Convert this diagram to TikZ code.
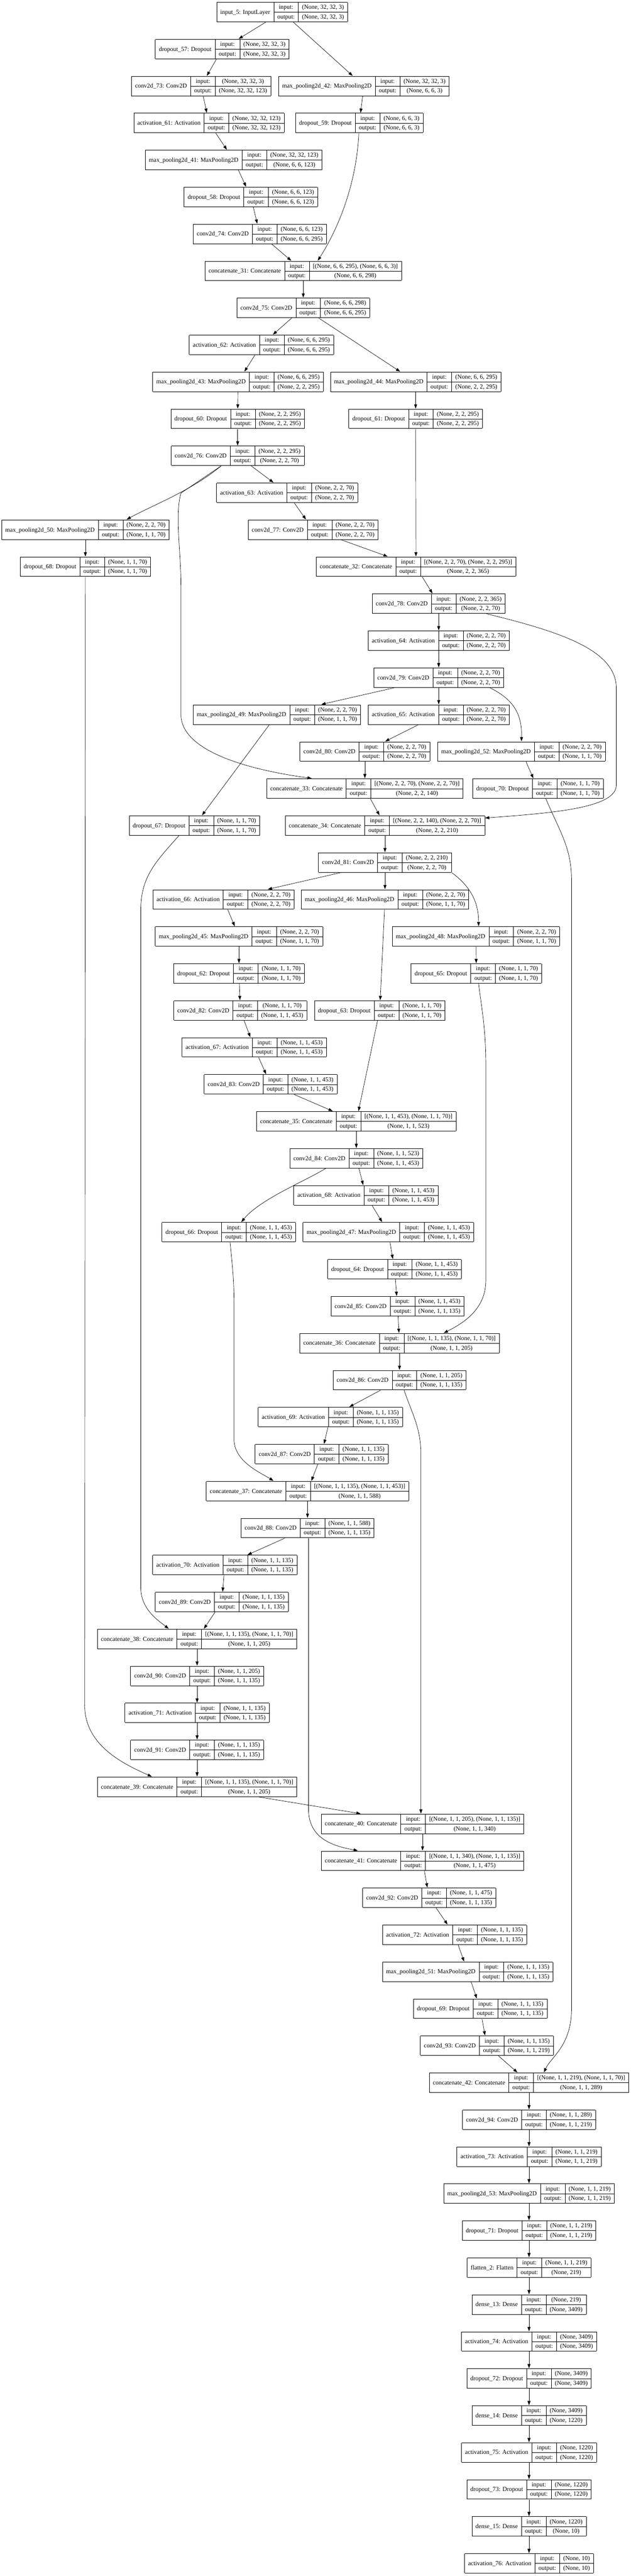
\documentclass[tikz,border=0pt]{standalone}
\usepackage{fontspec}
\setmainfont{Liberation Serif}
\usetikzlibrary{arrows.meta}
\setlength{\tabcolsep}{3.13pt}
\setlength{\arrayrulewidth}{0.3pt}
\newcommand{\layerrec}[3]{\begin{tabular}{|c|c|c|}\hline
  \raisebox{-4.2pt}[0pt][0pt]{#1} & input: & #2\\ \cline{2-3}
  & output: & #3\\ \hline\end{tabular}}
\tikzset{
layer/.style={inner sep=0pt, font=\fontsize{5.3}{8.25}\selectfont}, % one record per keras layer
link/.style={-{Triangle[length=1.3mm,width=0.9mm]}, line width=0.3pt}, % data flow between layers
}

\begin{document}
\begin{tikzpicture}[x=0.01cm, y=-1.12cm]% y counts the ranks of the graph
  \useasboundingbox (0,-0.3259) rectangle (1913,69.3438);
  \node[layer] (inp5) at (856,0) {\layerrec{input\_5: InputLayer}{(None, 32, 32, 3)}{(None, 32, 32, 3)}};
  \node[layer] (drop57) at (674,1) {\layerrec{dropout\_57: Dropout}{(None, 32, 32, 3)}{(None, 32, 32, 3)}};
  \node[layer] (conv73) at (610,2) {\layerrec{conv2d\_73: Conv2D}{(None, 32, 32, 3)}{(None, 32, 32, 123)}};
  \node[layer] (mp42) at (1104,2) {\layerrec{max\_pooling2d\_42: MaxPooling2D}{(None, 32, 32, 3)}{(None, 6, 6, 3)}};
  \node[layer] (act61) at (634,3) {\layerrec{activation\_61: Activation}{(None, 32, 32, 123)}{(None, 32, 32, 123)}};
  \node[layer] (drop59) at (1090,3) {\layerrec{dropout\_59: Dropout}{(None, 6, 6, 3)}{(None, 6, 6, 3)}};
  \node[layer] (mp41) at (709,4) {\layerrec{max\_pooling2d\_41: MaxPooling2D}{(None, 32, 32, 123)}{(None, 6, 6, 123)}};
  \node[layer] (drop58) at (761,5) {\layerrec{dropout\_58: Dropout}{(None, 6, 6, 123)}{(None, 6, 6, 123)}};
  \node[layer] (conv74) at (788,6) {\layerrec{conv2d\_74: Conv2D}{(None, 6, 6, 123)}{(None, 6, 6, 295)}};
  \node[layer] (cat31) at (920,7) {\layerrec{concatenate\_31: Concatenate}{[(None, 6, 6, 295), (None, 6, 6, 3)]}{(None, 6, 6, 298)}};
  \node[layer] (conv75) at (920,8) {\layerrec{conv2d\_75: Conv2D}{(None, 6, 6, 298)}{(None, 6, 6, 295)}};
  \node[layer] (act62) at (793,9) {\layerrec{activation\_62: Activation}{(None, 6, 6, 295)}{(None, 6, 6, 295)}};
  \node[layer] (mp43) at (722,10) {\layerrec{max\_pooling2d\_43: MaxPooling2D}{(None, 6, 6, 295)}{(None, 2, 2, 295)}};
  \node[layer] (mp44) at (1261,10) {\layerrec{max\_pooling2d\_44: MaxPooling2D}{(None, 6, 6, 295)}{(None, 2, 2, 295)}};
  \node[layer] (drop60) at (721,11) {\layerrec{dropout\_60: Dropout}{(None, 2, 2, 295)}{(None, 2, 2, 295)}};
  \node[layer] (drop61) at (1261,11) {\layerrec{dropout\_61: Dropout}{(None, 2, 2, 295)}{(None, 2, 2, 295)}};
  \node[layer] (conv76) at (721,12) {\layerrec{conv2d\_76: Conv2D}{(None, 2, 2, 295)}{(None, 2, 2, 70)}};
  \node[layer] (act63) at (871,13) {\layerrec{activation\_63: Activation}{(None, 2, 2, 70)}{(None, 2, 2, 70)}};
  \node[layer] (mp50) at (259,14) {\layerrec{max\_pooling2d\_50: MaxPooling2D}{(None, 2, 2, 70)}{(None, 1, 1, 70)}};
  \node[layer] (conv77) at (950,14) {\layerrec{conv2d\_77: Conv2D}{(None, 2, 2, 70)}{(None, 2, 2, 70)}};
  \node[layer] (drop68) at (259,15) {\layerrec{dropout\_68: Dropout}{(None, 1, 1, 70)}{(None, 1, 1, 70)}};
  \node[layer] (cat32) at (1262,15) {\layerrec{concatenate\_32: Concatenate}{[(None, 2, 2, 70), (None, 2, 2, 295)]}{(None, 2, 2, 365)}};
  \node[layer] (conv78) at (1331,16) {\layerrec{conv2d\_78: Conv2D}{(None, 2, 2, 365)}{(None, 2, 2, 70)}};
  \node[layer] (act64) at (1331,17) {\layerrec{activation\_64: Activation}{(None, 2, 2, 70)}{(None, 2, 2, 70)}};
  \node[layer] (conv79) at (1331,18) {\layerrec{conv2d\_79: Conv2D}{(None, 2, 2, 70)}{(None, 2, 2, 70)}};
  \node[layer] (mp49) at (840,19) {\layerrec{max\_pooling2d\_49: MaxPooling2D}{(None, 2, 2, 70)}{(None, 1, 1, 70)}};
  \node[layer] (act65) at (1331,19) {\layerrec{activation\_65: Activation}{(None, 2, 2, 70)}{(None, 2, 2, 70)}};
  \node[layer] (conv80) at (1107,20) {\layerrec{conv2d\_80: Conv2D}{(None, 2, 2, 70)}{(None, 2, 2, 70)}};
  \node[layer] (mp52) at (1582,20) {\layerrec{max\_pooling2d\_52: MaxPooling2D}{(None, 2, 2, 70)}{(None, 1, 1, 70)}};
  \node[layer] (cat33) at (1107,21) {\layerrec{concatenate\_33: Concatenate}{[(None, 2, 2, 70), (None, 2, 2, 70)]}{(None, 2, 2, 140)}};
  \node[layer] (drop70) at (1632,21) {\layerrec{dropout\_70: Dropout}{(None, 1, 1, 70)}{(None, 1, 1, 70)}};
  \node[layer] (drop67) at (590,22) {\layerrec{dropout\_67: Dropout}{(None, 1, 1, 70)}{(None, 1, 1, 70)}};
  \node[layer] (cat34) at (1168,22) {\layerrec{concatenate\_34: Concatenate}{[(None, 2, 2, 140), (None, 2, 2, 70)]}{(None, 2, 2, 210)}};
  \node[layer] (conv81) at (1168,23) {\layerrec{conv2d\_81: Conv2D}{(None, 2, 2, 210)}{(None, 2, 2, 70)}};
  \node[layer] (act66) at (678,24) {\layerrec{activation\_66: Activation}{(None, 2, 2, 70)}{(None, 2, 2, 70)}};
  \node[layer] (mp46) at (1168,24) {\layerrec{max\_pooling2d\_46: MaxPooling2D}{(None, 2, 2, 70)}{(None, 1, 1, 70)}};
  \node[layer] (mp45) at (725,25) {\layerrec{max\_pooling2d\_45: MaxPooling2D}{(None, 2, 2, 70)}{(None, 1, 1, 70)}};
  \node[layer] (mp48) at (1444,25) {\layerrec{max\_pooling2d\_48: MaxPooling2D}{(None, 2, 2, 70)}{(None, 1, 1, 70)}};
  \node[layer] (drop62) at (725,26) {\layerrec{dropout\_62: Dropout}{(None, 1, 1, 70)}{(None, 1, 1, 70)}};
  \node[layer] (drop65) at (1445,26) {\layerrec{dropout\_65: Dropout}{(None, 1, 1, 70)}{(None, 1, 1, 70)}};
  \node[layer] (conv82) at (729,27) {\layerrec{conv2d\_82: Conv2D}{(None, 1, 1, 70)}{(None, 1, 1, 453)}};
  \node[layer] (drop63) at (1152,27) {\layerrec{dropout\_63: Dropout}{(None, 1, 1, 70)}{(None, 1, 1, 70)}};
  \node[layer] (act67) at (771,28) {\layerrec{activation\_67: Activation}{(None, 1, 1, 453)}{(None, 1, 1, 453)}};
  \node[layer] (conv83) at (821,29) {\layerrec{conv2d\_83: Conv2D}{(None, 1, 1, 453)}{(None, 1, 1, 453)}};
  \node[layer] (cat35) at (1081,30) {\layerrec{concatenate\_35: Concatenate}{[(None, 1, 1, 453), (None, 1, 1, 70)]}{(None, 1, 1, 523)}};
  \node[layer] (conv84) at (1081,31) {\layerrec{conv2d\_84: Conv2D}{(None, 1, 1, 523)}{(None, 1, 1, 453)}};
  \node[layer] (act68) at (1110,32) {\layerrec{activation\_68: Activation}{(None, 1, 1, 453)}{(None, 1, 1, 453)}};
  \node[layer] (drop66) at (694,33) {\layerrec{dropout\_66: Dropout}{(None, 1, 1, 453)}{(None, 1, 1, 453)}};
  \node[layer] (mp47) at (1178,33) {\layerrec{max\_pooling2d\_47: MaxPooling2D}{(None, 1, 1, 453)}{(None, 1, 1, 453)}};
  \node[layer] (drop64) at (1197,34) {\layerrec{dropout\_64: Dropout}{(None, 1, 1, 453)}{(None, 1, 1, 453)}};
  \node[layer] (conv85) at (1206,35) {\layerrec{conv2d\_85: Conv2D}{(None, 1, 1, 453)}{(None, 1, 1, 135)}};
  \node[layer] (cat36) at (1212,36) {\layerrec{concatenate\_36: Concatenate}{[(None, 1, 1, 135), (None, 1, 1, 70)]}{(None, 1, 1, 205)}};
  \node[layer] (conv86) at (1212,37) {\layerrec{conv2d\_86: Conv2D}{(None, 1, 1, 205)}{(None, 1, 1, 135)}};
  \node[layer] (act69) at (1002,38) {\layerrec{activation\_69: Activation}{(None, 1, 1, 135)}{(None, 1, 1, 135)}};
  \node[layer] (conv87) at (976,39) {\layerrec{conv2d\_87: Conv2D}{(None, 1, 1, 135)}{(None, 1, 1, 135)}};
  \node[layer] (cat37) at (933,40) {\layerrec{concatenate\_37: Concatenate}{[(None, 1, 1, 135), (None, 1, 1, 453)]}{(None, 1, 1, 588)}};
  \node[layer] (conv88) at (933,41) {\layerrec{conv2d\_88: Conv2D}{(None, 1, 1, 588)}{(None, 1, 1, 135)}};
  \node[layer] (act70) at (682,42) {\layerrec{activation\_70: Activation}{(None, 1, 1, 135)}{(None, 1, 1, 135)}};
  \node[layer] (conv89) at (673,43) {\layerrec{conv2d\_89: Conv2D}{(None, 1, 1, 135)}{(None, 1, 1, 135)}};
  \node[layer] (cat38) at (598,44) {\layerrec{concatenate\_38: Concatenate}{[(None, 1, 1, 135), (None, 1, 1, 70)]}{(None, 1, 1, 205)}};
  \node[layer] (conv90) at (598,45) {\layerrec{conv2d\_90: Conv2D}{(None, 1, 1, 205)}{(None, 1, 1, 135)}};
  \node[layer] (act71) at (598,46) {\layerrec{activation\_71: Activation}{(None, 1, 1, 135)}{(None, 1, 1, 135)}};
  \node[layer] (conv91) at (598,47) {\layerrec{conv2d\_91: Conv2D}{(None, 1, 1, 135)}{(None, 1, 1, 135)}};
  \node[layer] (cat39) at (598,48) {\layerrec{concatenate\_39: Concatenate}{[(None, 1, 1, 135), (None, 1, 1, 70)]}{(None, 1, 1, 205)}};
  \node[layer] (cat40) at (1282,49) {\layerrec{concatenate\_40: Concatenate}{[(None, 1, 1, 205), (None, 1, 1, 135)]}{(None, 1, 1, 340)}};
  \node[layer] (cat41) at (1282,50) {\layerrec{concatenate\_41: Concatenate}{[(None, 1, 1, 340), (None, 1, 1, 135)]}{(None, 1, 1, 475)}};
  \node[layer] (conv92) at (1302,51) {\layerrec{conv2d\_92: Conv2D}{(None, 1, 1, 475)}{(None, 1, 1, 135)}};
  \node[layer] (act72) at (1379,52) {\layerrec{activation\_72: Activation}{(None, 1, 1, 135)}{(None, 1, 1, 135)}};
  \node[layer] (mp51) at (1419,53) {\layerrec{max\_pooling2d\_51: MaxPooling2D}{(None, 1, 1, 135)}{(None, 1, 1, 135)}};
  \node[layer] (drop69) at (1457,54) {\layerrec{dropout\_69: Dropout}{(None, 1, 1, 135)}{(None, 1, 1, 135)}};
  \node[layer] (conv93) at (1477,55) {\layerrec{conv2d\_93: Conv2D}{(None, 1, 1, 135)}{(None, 1, 1, 219)}};
  \node[layer] (cat42) at (1605,56) {\layerrec{concatenate\_42: Concatenate}{[(None, 1, 1, 219), (None, 1, 1, 70)]}{(None, 1, 1, 289)}};
  \node[layer] (conv94) at (1605,57) {\layerrec{conv2d\_94: Conv2D}{(None, 1, 1, 289)}{(None, 1, 1, 219)}};
  \node[layer] (act73) at (1605,58) {\layerrec{activation\_73: Activation}{(None, 1, 1, 219)}{(None, 1, 1, 219)}};
  \node[layer] (mp53) at (1605,59) {\layerrec{max\_pooling2d\_53: MaxPooling2D}{(None, 1, 1, 219)}{(None, 1, 1, 219)}};
  \node[layer] (drop71) at (1605,60) {\layerrec{dropout\_71: Dropout}{(None, 1, 1, 219)}{(None, 1, 1, 219)}};
  \node[layer] (flat2) at (1605,61) {\layerrec{flatten\_2: Flatten}{(None, 1, 1, 219)}{(None, 219)}};
  \node[layer] (dense13) at (1605,62) {\layerrec{dense\_13: Dense}{(None, 219)}{(None, 3409)}};
  \node[layer] (act74) at (1605,63) {\layerrec{activation\_74: Activation}{(None, 3409)}{(None, 3409)}};
  \node[layer] (drop72) at (1605,64) {\layerrec{dropout\_72: Dropout}{(None, 3409)}{(None, 3409)}};
  \node[layer] (dense14) at (1605,65) {\layerrec{dense\_14: Dense}{(None, 3409)}{(None, 1220)}};
  \node[layer] (act75) at (1605,66) {\layerrec{activation\_75: Activation}{(None, 1220)}{(None, 1220)}};
  \node[layer] (drop73) at (1605,67) {\layerrec{dropout\_73: Dropout}{(None, 1220)}{(None, 1220)}};
  \node[layer] (dense15) at (1605,68) {\layerrec{dense\_15: Dense}{(None, 1220)}{(None, 10)}};
  \node[layer] (act76) at (1605,69) {\layerrec{activation\_76: Activation}{(None, 10)}{(None, 10)}};

  \path[link]
  (inp5) edge (drop57)
  (inp5) edge (mp42)
  (drop57) edge (conv73)
  (conv73) edge (act61)
  (mp42) edge (drop59)
  (act61) edge (mp41)
  (mp41) edge (drop58)
  (drop58) edge (conv74)
  (conv74) edge (cat31)
  (cat31) edge (conv75)
  (conv75) edge (act62)
  (conv75) edge (mp44)
  (act62) edge (mp43)
  (mp43) edge (drop60)
  (mp44) edge (drop61)
  (drop60) edge (conv76)
  (conv76) edge (act63)
  (act63) edge (conv77)
  (conv77) edge (cat32)
  (drop61) edge (cat32)
  (mp50) edge (drop68)
  (cat32) edge (conv78)
  (conv78) edge (act64)
  (act64) edge (conv79)
  (conv79) edge (mp49)
  (conv79) edge (act65)
  (act65) edge (conv80)
  (conv80) edge (cat33)
  (mp52) edge (drop70)
  (mp49) edge (drop67)
  (cat33) edge (cat34)
  (cat34) edge (conv81)
  (conv81) edge (act66)
  (conv81) edge (mp46)
  (act66) edge (mp45)
  (mp45) edge (drop62)
  (drop62) edge (conv82)
  (conv82) edge (act67)
  (act67) edge (conv83)
  (mp46) edge (drop63)
  (mp48) edge (drop65)
  (conv83) edge (cat35)
  (drop63) edge (cat35)
  (cat35) edge (conv84)
  (conv84) edge (act68)
  (act68) edge (mp47)
  (mp47) edge (drop64)
  (drop64) edge (conv85)
  (conv85) edge (cat36)
  (cat36) edge (conv86)
  (conv86) edge (act69)
  (act69) edge (conv87)
  (conv87) edge (cat37)
  (cat37) edge (conv88)
  (conv88) edge (act70)
  (act70) edge (conv89)
  (conv89) edge (cat38)
  (cat38) edge (conv90)
  (conv90) edge (act71)
  (act71) edge (conv91)
  (conv91) edge (cat39)
  (cat39) edge (cat40)
  (cat40) edge (cat41)
  (cat41) edge (conv92)
  (conv92) edge (act72)
  (act72) edge (mp51)
  (mp51) edge (drop69)
  (drop69) edge (conv93)
  (conv93) edge (cat42)
  (cat42) edge (conv94)
  (conv94) edge (act73)
  (act73) edge (mp53)
  (mp53) edge (drop71)
  (drop71) edge (flat2)
  (flat2) edge (dense13)
  (dense13) edge (act74)
  (act74) edge (drop72)
  (drop72) edge (dense14)
  (dense14) edge (act75)
  (act75) edge (drop73)
  (drop73) edge (dense15)
  (dense15) edge (act76);

  % long skip connections
  \draw[link] (drop59) .. controls (1082,4.6) and (1030,5.8) .. ([xshift=4.4mm]cat31.north);
  \draw[link] ([xshift=-5mm]conv76.south) .. controls (580,12.95) and (460,13.35) .. ([xshift=12.5mm]mp50.north);
  \draw[link] ([xshift=-5mm]conv76.south) -- (549,13.01) .. controls (530,13.6) and (549,14.6) .. (549,15.5) -- (549,19.0)
    .. controls (549,19.9) and (720,20.45) .. ([xshift=-16.1mm]cat33.north);
  \draw[link] (drop68) -- (257,45.8) .. controls (257,46.9) and (380,47.4) .. ([xshift=-13.7mm]cat39.north);
  \draw[link] ([xshift=14.5mm]conv78.south) .. controls (1720,16.8) and (1870,17.3) .. (1870,18.3) -- (1870,20.9)
    .. controls (1870,21.5) and (1700,21.65) .. ([yshift=-0.8mm]cat34.north east);
  \draw[link] ([xshift=15.5mm]conv79.south) .. controls (1560,18.6) and (1584,19.0) .. (mp52.north);
  \draw[link] ([xshift=2.4mm]drop70.south) .. controls (1700,22.2) and (1734,22.6) .. (1734,23.5) -- (1734,54.0)
    .. controls (1734,55.0) and (1672,55.3) .. ([xshift=4.5mm]cat42.north);
  \draw[link] ([xshift=-4.7mm]drop67.south) .. controls (470,23.0) and (427,23.4) .. (427,24.3) -- (427,42.6)
    .. controls (427,43.2) and (480,43.5) .. ([xshift=-8.6mm]cat38.north);
  \draw[link] (conv81.south east) .. controls (1420,23.6) and (1452,24.0) .. ([xshift=0.8mm]mp48.north);
  \draw[link] ([xshift=0.7mm]drop65.south) .. controls (1462,27.0) and (1474,27.5) .. (1474,28.5) -- (1474,34.3)
    .. controls (1474,35.0) and (1420,35.4) .. ([xshift=13.4mm]cat36.north);
  \draw[link] ([xshift=-9.3mm]conv84.south) .. controls (930,31.6) and (790,32.1) .. ([xshift=3.8mm]drop66.north);
  \draw[link] ([xshift=0.4mm]drop66.south) .. controls (706,34.0) and (710,34.3) .. (710,35) -- (710,38.6)
    .. controls (710,39.2) and (790,39.5) .. ([xshift=-10.3mm]cat37.north);
  \draw[link] ([xshift=1.4mm]conv86.south) .. controls (1250,37.9) and (1277,38.3) .. (1277,39) -- ([xshift=-0.5mm]cat40.north);
  \draw[link] ([xshift=0.3mm]conv88.south) -- (936,48.6) .. controls (936,49.4) and (1010,49.6) .. ([xshift=-19.6mm]cat41.north);
\end{tikzpicture}
\end{document}
